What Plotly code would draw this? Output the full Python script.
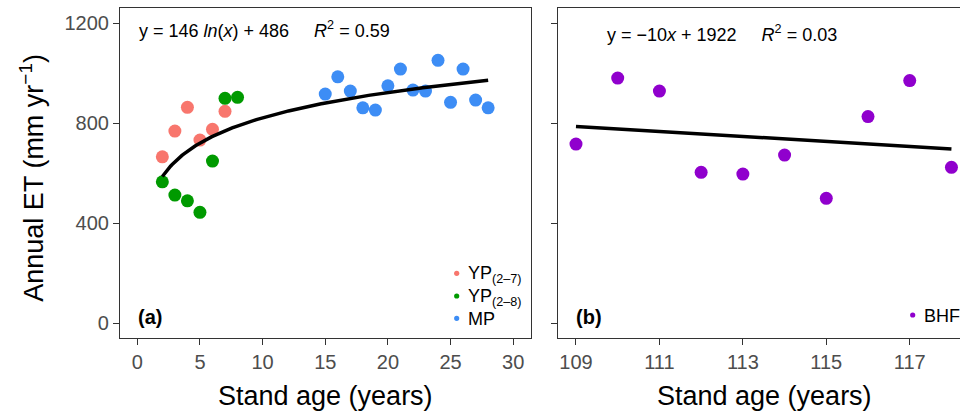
import numpy as np
import plotly.graph_objects as go

# ---------------- data ----------------
yp27_age = [2, 3, 4, 5, 6, 7]
yp27_et = [666, 769, 864, 733, 776, 848]

yp28_age = [2, 3, 4, 5, 6, 7, 8]
yp28_et = [566, 513, 490, 444, 649, 900, 904]

mp_age = [15, 16, 17, 18, 19, 20, 21, 22, 23, 24, 25, 26, 27, 28]
mp_et = [917, 986, 929, 862, 853, 950, 1017, 933, 929, 1052, 884, 1017, 893, 862]

bhf_age = [109, 110, 111, 112, 113, 114, 115, 116, 117, 118]
bhf_et = [717, 981, 929, 604, 597, 673, 500, 827, 971, 624]

# fitted log model shown in panel (a): y = 146 ln(x) + 486
log_a, log_b = 146, 486

series_names = ["YP<sub>(2–7)</sub>", "YP<sub>(2–8)</sub>", "MP", "BHF"]
colors = ["#F8766D", "#009A00", "#3D8DF5", "#9000CD"]

left_ticks = [0, 5, 10, 15, 20, 25, 30]
right_ticks = [109, 111, 113, 115, 117]
y_ticks = [0, 400, 800, 1200]

eq_a = "y = 146 <i>ln</i>(<i>x</i>) + 486&nbsp;&nbsp;&nbsp;&nbsp;&nbsp;<i>R</i><sup>2</sup> = 0.59"
eq_b = "y = −10<i>x</i> + 1922&nbsp;&nbsp;&nbsp;&nbsp;&nbsp;<i>R</i><sup>2</sup> = 0.03"

FONT = "Liberation Sans, Arial, sans-serif"

# ---------------- figure ----------------
fig = go.Figure()

ms = 13
fig.add_trace(go.Scatter(x=yp27_age, y=yp27_et, mode="markers", name="YP(2-7)",
                         marker=dict(size=ms, color=colors[0]), xaxis="x", yaxis="y"))
fig.add_trace(go.Scatter(x=yp28_age, y=yp28_et, mode="markers", name="YP(2-8)",
                         marker=dict(size=ms, color=colors[1]), xaxis="x", yaxis="y"))
fig.add_trace(go.Scatter(x=mp_age, y=mp_et, mode="markers", name="MP",
                         marker=dict(size=ms, color=colors[2]), xaxis="x", yaxis="y"))

all_age = np.array(yp27_age + yp28_age + mp_age, dtype=float)
xf = np.linspace(all_age.min(), all_age.max(), 200)
fig.add_trace(go.Scatter(x=xf, y=log_a * np.log(xf) + log_b, mode="lines",
                         line=dict(color="black", width=3.5), xaxis="x", yaxis="y"))

fig.add_trace(go.Scatter(x=bhf_age, y=bhf_et, mode="markers", name="BHF",
                         marker=dict(size=ms, color=colors[3]), xaxis="x2", yaxis="y2"))
slope, icpt = np.polyfit(bhf_age, bhf_et, 1)
xb = np.array([min(bhf_age), max(bhf_age)], dtype=float)
fig.add_trace(go.Scatter(x=xb, y=slope * xb + icpt, mode="lines",
                         line=dict(color="black", width=3.5), xaxis="x2", yaxis="y2"))

W, H = 960, 414
ML, MR, MT, MB = 120, 0, 8, 76
PW, PH = W - ML - MR, H - MT - MB


def px(xpix):
    return (xpix - ML) / PW


def py(ypix):
    return (MT + PH - ypix) / PH


axis_common = dict(showgrid=False, zeroline=False, showline=True, linecolor="#333333",
                   linewidth=1.2, ticks="outside", ticklen=6, tickwidth=1.1,
                   tickcolor="#333333",
                   tickfont=dict(family=FONT, size=20, color="#4D4D4D"))

yrange = [-58.8, 1261.2]

fig.update_layout(
    width=W, height=H,
    margin=dict(l=ML, r=MR, t=MT, b=MB),
    paper_bgcolor="white", plot_bgcolor="white",
    showlegend=False,
    xaxis=dict(domain=[0, px(531)], range=[-1.38, 31.42], tickvals=left_ticks,
               mirror=True, anchor="y", **axis_common),
    yaxis=dict(domain=[0, 1], range=yrange, tickvals=y_ticks, mirror=True,
               anchor="x", **axis_common),
    xaxis2=dict(domain=[px(558.3), 1], range=[108.576, 118.205], tickvals=right_ticks,
                mirror=True, anchor="y2", **axis_common),
    yaxis2=dict(domain=[0, 1], range=yrange, tickvals=y_ticks, showticklabels=False,
                mirror=False, anchor="x2", **axis_common),
)

ann = []
# axis titles
ann.append(dict(text="Annual ET (mm yr<sup>−1</sup>)", x=px(31.7), y=py(178), xref="paper",
                yref="paper", showarrow=False, textangle=-90, xanchor="center",
                yanchor="middle", font=dict(family=FONT, size=27, color="black")))
ann.append(dict(text="Stand age (years)", x=px(325), y=py(396), xref="paper", yref="paper",
                showarrow=False, xanchor="center", yanchor="middle",
                font=dict(family=FONT, size=27, color="black")))
ann.append(dict(text="Stand age (years)", x=px(764), y=py(396), xref="paper", yref="paper",
                showarrow=False, xanchor="center", yanchor="middle",
                font=dict(family=FONT, size=27, color="black")))
# equations
ann.append(dict(text=eq_a, x=px(137), y=py(29.5), xref="paper", yref="paper",
                showarrow=False, xanchor="left", yanchor="middle",
                font=dict(family=FONT, size=18, color="black")))
ann.append(dict(text=eq_b, x=px(605), y=py(33.5), xref="paper", yref="paper",
                showarrow=False, xanchor="left", yanchor="middle",
                font=dict(family=FONT, size=18, color="black")))
# panel labels
ann.append(dict(text="<b>(a)</b>", x=px(136), y=py(317), xref="paper", yref="paper",
                showarrow=False, xanchor="left", yanchor="middle",
                font=dict(family=FONT, size=20, color="black")))
ann.append(dict(text="<b>(b)</b>", x=px(574), y=py(317), xref="paper", yref="paper",
                showarrow=False, xanchor="left", yanchor="middle",
                font=dict(family=FONT, size=20, color="black")))

# manual legends
shapes = []
leg_items = [(series_names[0], colors[0], 456.7, 273.3),
             (series_names[1], colors[1], 456.7, 296.0),
             (series_names[2], colors[2], 456.7, 318.3),
             (series_names[3], colors[3], 912.7, 315.0)]
r = 2.6
for name, col, lx, ly in leg_items:
    shapes.append(dict(type="circle", xref="paper", yref="paper",
                       x0=px(lx - r), x1=px(lx + r), y0=py(ly + r), y1=py(ly - r),
                       fillcolor=col, line=dict(width=0)))
    ann.append(dict(text=name, x=px(lx + 9), y=py(ly + 1), xref="paper", yref="paper",
                    showarrow=False, xanchor="left", yanchor="middle",
                    font=dict(family=FONT, size=18, color="black")))

fig.update_layout(annotations=ann, shapes=shapes)

fig.write_html("out.html",
               config={"displayModeBar": False},
               post_script="document.body.style.margin='0';"
                           "document.body.style.overflow='hidden';")
